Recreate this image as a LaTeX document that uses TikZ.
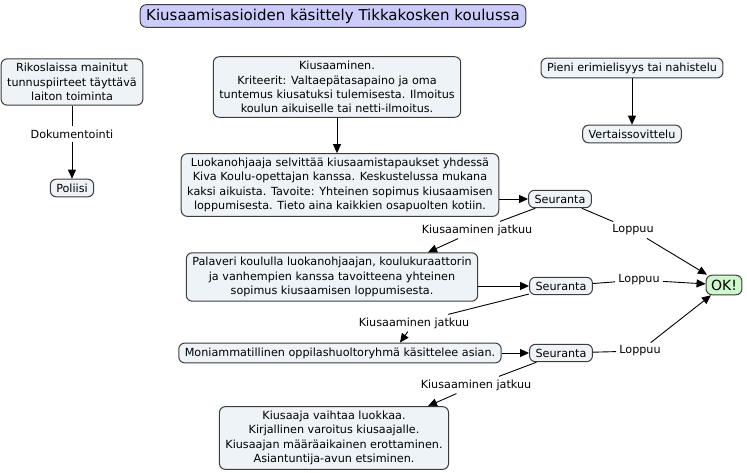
\documentclass[tikz,border=0pt]{standalone}
\usepackage{fontspec}
\setmainfont{DejaVu Sans}
\usepackage{xcolor}
\usepackage{tikz}
\usetikzlibrary{arrows.meta,positioning,shapes}

\definecolor{boxfill}{RGB}{237,243,246}
\definecolor{titlefill}{RGB}{204,204,252}
\definecolor{okfill}{RGB}{206,247,204}
\definecolor{edge}{RGB}{60,60,60}

\begin{document}
\begin{tikzpicture}[x=1pt,y=-1pt,
    box/.style={draw=edge,fill=boxfill,rounded corners=6pt,line width=1pt,align=center,
      font=\fontsize{11.2}{14.3}\selectfont,inner xsep=6pt,inner ysep=4.5pt},
    lbl/.style={font=\fontsize{11.2}{13}\selectfont,inner sep=3pt},
    ln/.style={draw=black,line width=0.9pt},
    arr/.style={ln,-{Triangle[length=9pt,width=8pt]}}]
        \useasboundingbox (0,0) rectangle (747,473);
        % title
        \node[box,fill=titlefill,font=\fontsize{15}{17}\selectfont,inner ysep=4pt] (title) at (333,16) {Kiusaamisasioiden käsittely Tikkakosken koulussa};
        % left branch
        \node[box] (rikos) at (72,82) {Rikoslaissa mainitut\\tunnuspiirteet täyttävä\\laiton toiminta};
        \node[lbl] (dok) at (72,134) {Dokumentointi};
        \node[box] (poliisi) at (72,188) {Poliisi};
        % right branch
        \node[box] (pieni) at (632,68) {Pieni erimielisyys tai nahistelu};
        \node[box] (verso) at (632,134) {Vertaissovittelu};
        % main flow
        \node[box] (kius) at (337,87) {Kiusaaminen.\\Kriteerit: Valtaepätasapaino ja oma\\tuntemus kiusatuksi tulemisesta. Ilmoitus\\koulun aikuiselle tai netti-ilmoitus.};
        \node[box] (luokan) at (340,185) {Luokanohjaaja selvittää kiusaamistapaukset yhdessä\\Kiva Koulu-opettajan kanssa. Keskustelussa mukana\\kaksi aikuista. Tavoite: Yhteinen sopimus kiusaamisen\\loppumisesta. Tieto aina kaikkien osapuolten kotiin.};
        \node[box] (palav) at (332,277) {Palaveri koululla luokanohjaajan, koulukuraattorin\\ja vanhempien kanssa tavoitteena yhteinen\\sopimus kiusaamisen loppumisesta.};
        \node[box] (moni) at (340,353) {Moniammatillinen oppilashuoltoryhmä käsittelee asian.};
        \node[box] (vaihto) at (334,438) {Kiusaaja vaihtaa luokkaa.\\Kirjallinen varoitus kiusaajalle.\\Kiusaajan määräaikainen erottaminen.\\Asiantuntija-avun etsiminen.};
        \node[box] (seur1) at (560,199) {Seuranta};
        \node[box] (seur2) at (561,286) {Seuranta};
        \node[box] (seur3) at (561,353) {Seuranta};
        \node[box,fill=okfill,font=\fontsize{14}{16}\selectfont,inner xsep=5pt] (ok) at (724,285) {OK!};
        % labels
        \node[lbl] (jat1) at (477,230) {Kiusaaminen jatkuu};
        \node[lbl] (jat2) at (414,323) {Kiusaaminen jatkuu};
        \node[lbl] (jat3) at (476,385) {Kiusaaminen jatkuu};
        \node[lbl] (lop1) at (633,230) {Loppuu};
        \node[lbl] (lop2) at (639,280) {Loppuu};
        \node[lbl] (lop3) at (640,351) {Loppuu};
        % connectors
        \draw[ln] (rikos) -- (dok);
        \draw[arr] (dok) -- (poliisi);
        \draw[arr] (pieni) -- (verso);
        \draw[arr] (kius.south) -- (kius.south |- luokan.north);
        \draw[arr] (luokan.east |- seur1) -- (seur1);
        \draw[ln] (seur1) -- (jat1);
        \draw[arr] (jat1) -- (palav.north -| 428,0);
        \draw[ln] (seur1) -- (lop1);
        \draw[arr] (lop1) -- (ok);
        \draw[arr] (palav.east |- seur2) -- (seur2);
        \draw[ln] (seur2) -- (lop2);
        \draw[arr] (lop2) -- (ok);
        \draw[ln] (seur2) -- (jat2);
        \draw[arr] (jat2) -- (moni.north -| 400,0);
        \draw[arr] (moni) -- (seur3);
        \draw[ln] (seur3) -- (lop3);
        \draw[arr] (lop3) -- (ok);
        \draw[ln] (seur3) -- (jat3);
        \draw[arr] (jat3) -- (vaihto.north -| 428,0);
\end{tikzpicture}
\end{document}
